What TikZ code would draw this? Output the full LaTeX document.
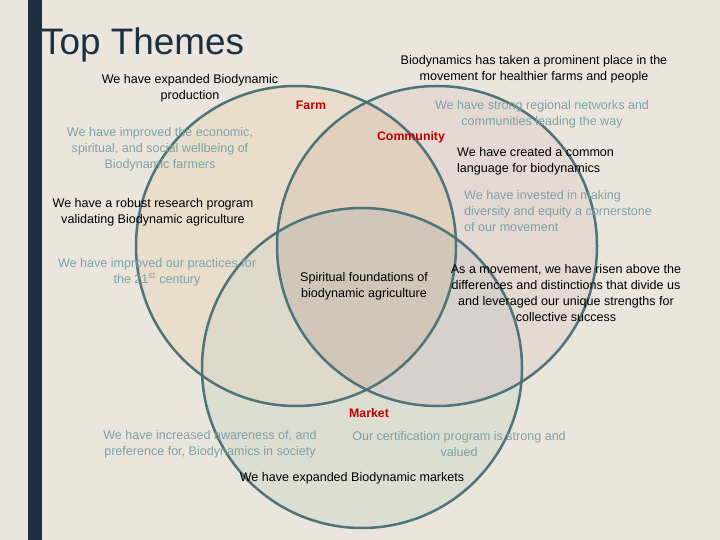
\documentclass[tikz,border=0pt]{standalone}
\usepackage{fontspec}
\setmainfont{Liberation Sans}
\definecolor{bgc}{HTML}{EBE6DD}
\definecolor{barc}{HTML}{1C2F40}
\definecolor{ringc}{HTML}{4E7479}
\definecolor{palec}{HTML}{7DA1A6}
\definecolor{tagc}{HTML}{C00000}
\definecolor{farmc}{HTML}{E9DECB}
\definecolor{commc}{HTML}{E5D9D3}
\definecolor{markc}{HTML}{DCDED2}
\definecolor{fcc}{HTML}{E2D0BE}
\definecolor{fmc}{HTML}{DED9C8}
\definecolor{cmc}{HTML}{D8D0CD}
\definecolor{allc}{HTML}{D1C7B9}
\begin{document}
\begin{tikzpicture}[x=1bp,y=-1bp,
	ring/.style={draw=ringc,line width=2.5bp},
	dark/.style={align=center,inner sep=0pt,text=black,font=\fontsize{12.6}{16}\selectfont},
	pale/.style={dark,text=palec},
	tag/.style={inner sep=0pt,text=tagc,font=\bfseries\fontsize{12.4}{14}\selectfont}]
	\useasboundingbox (0,0) rectangle (720,540);
	\fill[bgc] (0,0) rectangle (720,540);
	\fill[barc] (28,0) rectangle (42,540);
	\coordinate (F) at (296,246);
	\coordinate (C) at (437,246);
	\coordinate (M) at (362,368);
	% circles and their overlaps
	\fill[farmc] (F) circle [radius=160bp];
	\fill[commc] (C) circle [radius=160bp];
	\fill[markc] (M) circle [radius=160bp];
	\begin{scope}
		\clip (F) circle [radius=160bp];
		\fill[fcc] (C) circle [radius=160bp];
		\fill[fmc] (M) circle [radius=160bp];
	\end{scope}
	\begin{scope}
		\clip (C) circle [radius=160bp];
		\fill[cmc] (M) circle [radius=160bp];
		\clip (F) circle [radius=160bp];
		\fill[allc] (M) circle [radius=160bp];
	\end{scope}
	\draw[ring] (F) circle [radius=160bp];
	\draw[ring] (C) circle [radius=160bp];
	\draw[ring] (M) circle [radius=160bp];
	% texts
	\node (title) [anchor=base west,inner sep=0pt,text=barc,font=\fontsize{37}{40}\selectfont] at (41,55) {Top Themes};
	\node (farm) [tag] at (311,105) {Farm};
	\node (community) [tag] at (411,137) {Community};
	\node (market) [tag] at (369,413) {Market};
	\node (1) [dark] at (190,88) {We have expanded Biodynamic\\production};
	\node (2) [pale] at (160,149) {We have improved the economic,\\spiritual, and social wellbeing of\\Biodynamic farmers};
	\node (3) [dark] at (153,212) {We have a robust research program\\validating Biodynamic agriculture};
	\node (4) [pale] at (157,272) {We have improved our practices for\\the 21\textsuperscript{st} century};
	\node (5) [dark] at (534,69) {Biodynamics has taken a prominent place in the\\movement for healthier farms and people};
	\node (6) [pale] at (542,114) {We have strong regional networks and\\communities leading the way};
	\node (7) [dark,align=left,anchor=west] at (457,161) {We have created a common\\language for biodynamics};
	\node (8) [pale,align=left,anchor=west] at (464,211) {We have invested in making\\diversity and equity a cornerstone\\of our movement};
	\node (9) [dark] at (364,286) {Spiritual foundations of\\biodynamic agriculture};
	\node (10) [dark] at (566,293) {As a movement, we have risen above the\\differences and distinctions that divide us\\and leveraged our unique strengths for\\collective success};
	\node (11) [pale] at (210,444) {We have increased awareness of, and\\preference for, Biodynamics in society};
	\node (12) [pale] at (459,444) {Our certification program is strong and\\valued};
	\node (13) [dark] at (352,478) {We have expanded Biodynamic markets};
\end{tikzpicture}
\end{document}
